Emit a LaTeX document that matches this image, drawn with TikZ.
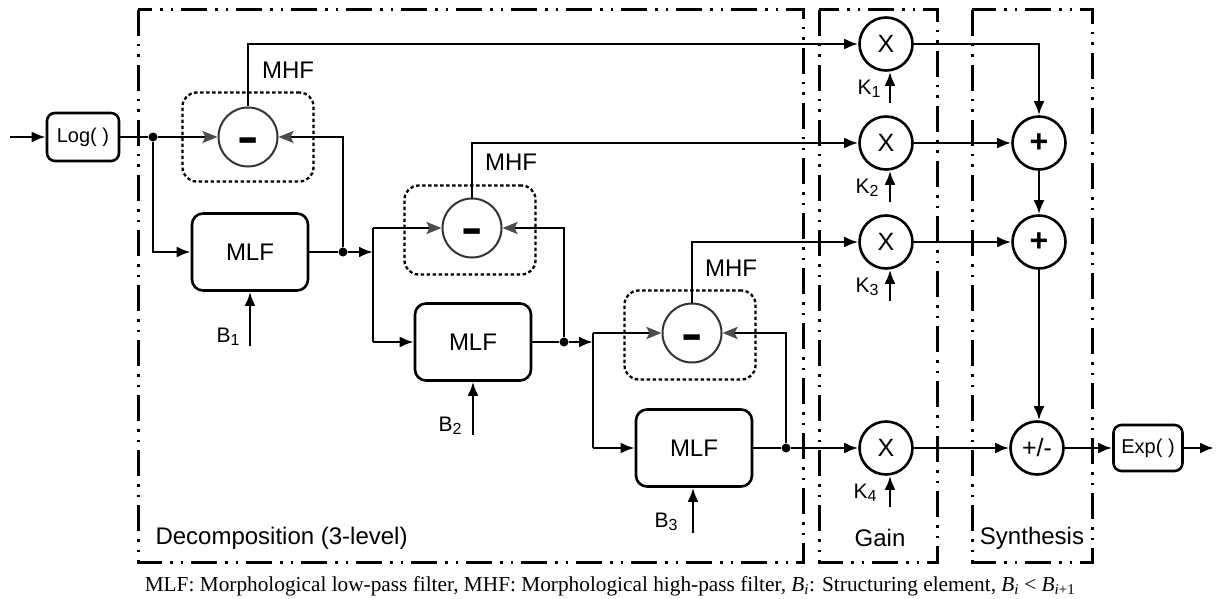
\documentclass[tikz,border=0pt]{standalone}
\usepackage{fontspec}
\usepackage{graphicx}
\setmainfont{Liberation Sans}
\newfontfamily\capfont{Liberation Serif}
\usetikzlibrary{arrows.meta,positioning}
\newcommand\idx[1]{{\fontsize{16}{16}\selectfont\raisebox{-2.5pt}{#1}}}
\newcommand\minussign{\smash{\raisebox{-16pt}{\scalebox{1.6}[1.15]{-}}}}
\tikzset{
  frame/.style={draw=black, line width=3pt,
    dash pattern=on 26pt off 8pt on 2.5pt off 8pt on 2.5pt off 8pt},
  filt/.style={draw=black, line width=2.6pt, rounded corners=11pt, align=center, fill=white,
    minimum width=116pt, minimum height=77pt, font=\fontsize{24}{26}\selectfont},
  edge/.style={filt, minimum width=72pt, minimum height=48pt, rounded corners=8pt,
    font=\fontsize{20}{24}\selectfont},
  mhfbox/.style={draw=black, line width=2.3pt, dash pattern=on 3.5pt off 2.5pt,
    rounded corners=14pt, minimum width=131pt, minimum height=89pt},
  subop/.style={circle, draw=black!80, line width=2pt, minimum size=59pt, inner sep=0pt,
    font=\fontsize{40}{40}\selectfont\bfseries},
  mulop/.style={circle, draw=black, line width=2.6pt, minimum size=53pt, inner sep=0pt,
    font=\fontsize{25}{25}\selectfont},
  addop/.style={mulop, font=\fontsize{32}{32}\selectfont\bfseries},
  jdot/.style={circle, fill=black, inner sep=0pt, minimum size=9pt},
  wire/.style={line width=2.6pt},
  arr/.style={-{Latex[length=14pt,width=11pt]}, line width=2.6pt},
  garr/.style={-{Stealth[length=15pt,width=12pt,inset=3pt,fill=black!70,color=black!70]}, line width=2.6pt},
  tag/.style={font=\fontsize{24}{26}\selectfont},
  ktag/.style={font=\fontsize{21}{22}\selectfont}
}

\begin{document}
\begin{tikzpicture}[x=1pt, y=-1pt]
  \useasboundingbox (0,0) rectangle (1216,599);

  % stage frames
  \draw[frame] (138,10) rectangle (803,562);
  \draw[frame] (819,10) rectangle (937,562);
  \draw[frame] (972,10) rectangle (1092,562);
  \node[tag, anchor=west] (declbl) at (152,538) {Decomposition (3-level)};
  \node[tag] (gainlbl) at (880,538) {Gain};
  \node[tag] (synlbl) at (1032,538) {Synthesis};

  % decomposition
  \node[edge] (log) at (83,137) {Log( )};
  \coordinate (in) at (10,137);
  \node[jdot] (j0) at (153,137) {};

  \node[mhfbox] (mhf1) at (248,137) {};
  \node[subop] (sub1) at (248,137) {\minussign};
  \node[tag] (mhf1lbl) at (288,70) {MHF};
  \node[filt] (mlf1) at (250,252) {MLF};
  \node[jdot] (j1) at (343,252) {};
  \coordinate (s1) at (373,252);
  \coordinate (s1t) at (373,228);
  \coordinate (s1b) at (373,342);

  \node[mhfbox] (mhf2) at (470,230) {};
  \node[subop] (sub2) at (472,228) {\minussign};
  \node[tag] (mhf2lbl) at (511,162) {MHF};
  \node[filt] (mlf2) at (473,342) {MLF};
  \node[jdot] (j2) at (564,342) {};
  \coordinate (s2) at (593,342);
  \coordinate (s2t) at (593,333);
  \coordinate (s2b) at (593,448);

  \node[mhfbox] (mhf3) at (690,335) {};
  \node[subop] (sub3) at (692,333) {\minussign};
  \node[tag] (mhf3lbl) at (731,268) {MHF};
  \node[filt] (mlf3) at (694,448) {MLF};
  \node[jdot] (j3) at (786,448) {};

  \coordinate (b1) at (250,346);
  \coordinate (b2) at (473,435);
  \coordinate (b3) at (693,533);
  \node[ktag] (b1lbl) at (228,337) {B\idx{1}};
  \node[ktag] (b2lbl) at (450,426) {B\idx{2}};
  \node[ktag] (b3lbl) at (666,522) {B\idx{3}};

  % gain
  \node[mulop] (x1) at (886,44) {X};
  \node[mulop] (x2) at (886,143) {X};
  \node[mulop] (x3) at (886,242) {X};
  \node[mulop] (x4) at (886,448) {X};
  \coordinate (k1) at (890,103);
  \coordinate (k2) at (890,202);
  \coordinate (k3) at (890,301);
  \coordinate (k4) at (890,507);
  \node[ktag] (k1lbl) at (869,89) {K\idx{1}};
  \node[ktag] (k2lbl) at (867,188) {K\idx{2}};
  \node[ktag] (k3lbl) at (867,287) {K\idx{3}};
  \node[ktag] (k4lbl) at (865,493) {K\idx{4}};

  % synthesis
  \node[addop] (add1) at (1039,143) {+};
  \node[addop] (add2) at (1039,242) {+};
  \node[mulop] (pm) at (1037,448) {+/-};
  \node[edge, minimum width=69pt, minimum height=46pt] (exp) at (1148,448) {Exp( )};
  \coordinate (out) at (1214,448);

  % level 1
  \draw[arr] (in) -- (log.west);
  \draw[wire] (log.east) -- (j0);
  \draw[garr] (j0) -- (sub1.west);
  \draw[arr] (j0) |- (mlf1.west);
  \draw[wire] (mlf1.east) -- (j1);
  \draw[garr] (j1) |- (sub1.east);
  \draw[arr] (j1) -- (s1);
  \draw[wire] (s1t) -- (s1b);
  \draw[arr] (b1) -- (b1 |- mlf1.south);

  % level 2
  \draw[garr] (s1t) -- (sub2.west);
  \draw[arr] (s1b) -- (mlf2.west);
  \draw[wire] (mlf2.east) -- (j2);
  \draw[garr] (j2) |- (sub2.east);
  \draw[arr] (j2) -- (s2);
  \draw[wire] (s2t) -- (s2b);
  \draw[arr] (b2) -- (b2 |- mlf2.south);

  % level 3
  \draw[garr] (s2t) -- (sub3.west);
  \draw[arr] (s2b) -- (mlf3.west);
  \draw[wire] (mlf3.east) -- (j3);
  \draw[garr] (j3) |- (sub3.east);
  \draw[arr] (b3) -- (b3 |- mlf3.south);

  % to gain
  \draw[arr] (sub1.north) |- (x1.west);
  \draw[arr] (sub2.north) |- (x2.west);
  \draw[arr] (sub3.north) |- (x3.west);
  \draw[arr] (j3) -- (x4.west);
  \draw[arr] (k1) -- (k1 |- x1.south);
  \draw[arr] (k2) -- (k2 |- x2.south);
  \draw[arr] (k3) -- (k3 |- x3.south);
  \draw[arr] (k4) -- (k4 |- x4.south);

  % synthesis
  \draw[arr] (x1.east) -| (add1.north);
  \draw[arr] (x2.east) -- (add1.west);
  \draw[arr] (add1.south) -- (add2.north);
  \draw[arr] (x3.east) -- (add2.west);
  \draw[arr] (add2.south) -- (add2.south |- pm.north);
  \draw[arr] (x4.east) -- (pm.west);
  \draw[arr] (pm.east) -- (exp.west);
  \draw[arr] (exp.east) -- (out);

  \node[font=\capfont\fontsize{21.3}{24}\selectfont] (caption) at (610,586)
    {MLF: Morphological low-pass filter, MHF: Morphological high-pass filter, \textit{B}\textsubscript{\textit{i}}: Structuring element, \textit{B}\textsubscript{\textit{i}} < \textit{B}\textsubscript{\textit{i}+1}};
\end{tikzpicture}
\end{document}
